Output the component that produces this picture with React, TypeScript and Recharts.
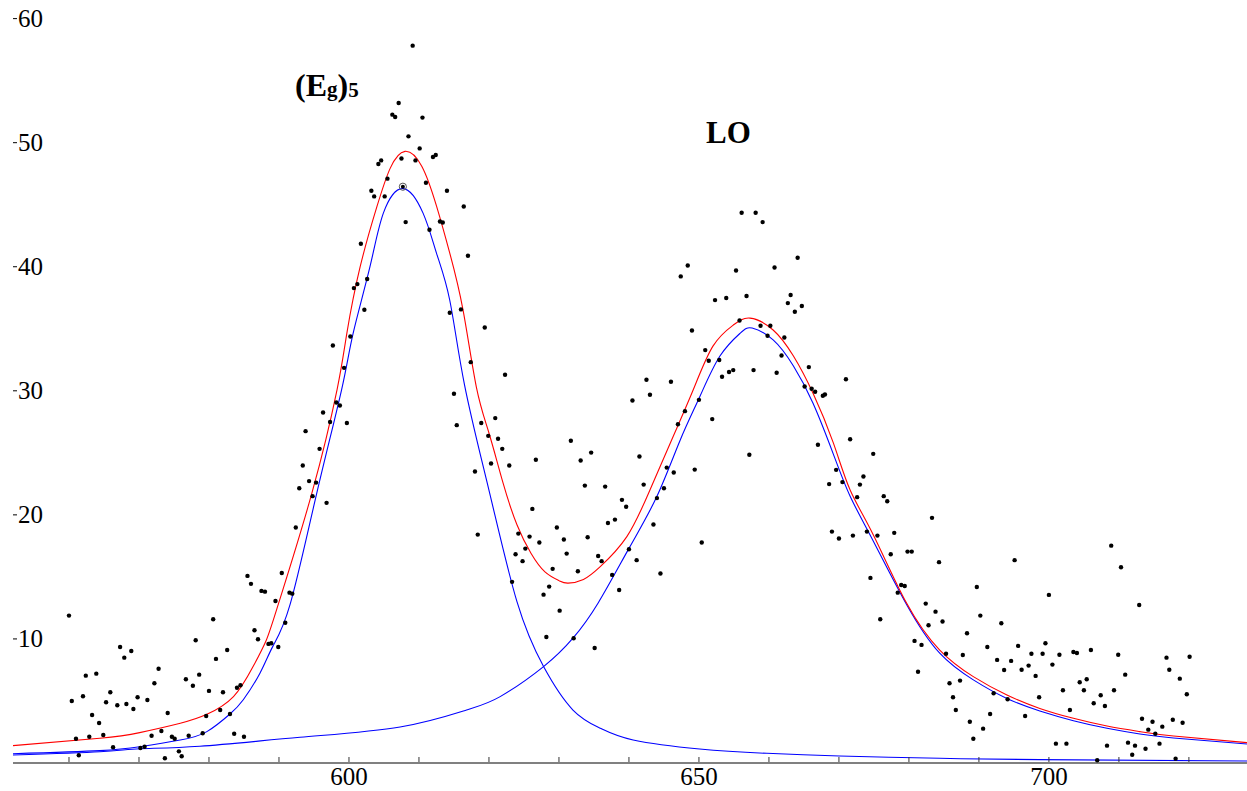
import React from 'react';
import {
  ComposedChart,
  Line,
  Scatter,
  XAxis,
  YAxis,
} from 'recharts';

// measured points [wavenumber, intensity]
const measured: [number, number][] = [
  [560.0, 11.88], [560.4, 5.0], [561.0, 1.96], [561.4, 0.62], [562.0, 5.38], [562.4, 7.04],
  [562.9, 2.12], [563.3, 3.87], [563.9, 7.2], [564.3, 3.23], [564.9, 2.26], [565.3, 4.9],
  [565.9, 5.7], [566.3, 1.27], [566.9, 4.65], [567.3, 9.35], [567.9, 8.49], [568.2, 4.76],
  [568.9, 9.03], [569.2, 4.35], [569.8, 5.3], [570.2, 1.21], [570.8, 1.31], [571.2, 5.08],
  [571.8, 2.2], [572.2, 6.43], [572.8, 7.6], [573.2, 2.58], [573.7, 0.38], [574.1, 4.03],
  [574.7, 2.12], [575.1, 1.96], [575.7, 0.94], [576.1, 0.54], [576.7, 6.75], [577.1, 2.2],
  [577.7, 6.23], [578.1, 9.9], [578.6, 7.12], [579.1, 2.4], [579.6, 3.79], [580.0, 5.81],
  [580.6, 11.59], [581.0, 8.39], [581.6, 4.27], [582.0, 5.7], [582.6, 9.11], [583.0, 3.95],
  [583.6, 2.36], [584.0, 6.07], [584.5, 6.27], [585.0, 2.12], [585.5, 15.08], [586.0, 14.44],
  [586.5, 10.7], [587.0, 9.98], [587.5, 13.87], [588.0, 13.81], [588.5, 9.6], [588.9, 9.65],
  [589.5, 13.06], [589.9, 9.35], [590.4, 15.32], [590.9, 11.31], [591.5, 13.73], [591.9, 13.65],
  [592.4, 18.98], [592.9, 22.15], [593.4, 23.98], [593.8, 26.75], [594.3, 22.72], [594.8, 21.51],
  [595.3, 22.6], [595.8, 25.32], [596.3, 28.25], [596.8, 20.97], [597.3, 27.48], [597.7, 33.65],
  [598.2, 29.06], [598.7, 28.81], [599.3, 31.85], [599.7, 27.4], [600.2, 34.38], [600.7, 38.28],
  [601.2, 38.6], [601.7, 41.85], [602.2, 36.53], [602.6, 39.01], [603.2, 46.13], [603.6, 45.67],
  [604.2, 48.28], [604.6, 48.57], [605.1, 45.67], [605.5, 47.1], [606.2, 52.26], [606.6, 52.07],
  [607.1, 53.2], [607.5, 48.73], [608.1, 43.6], [608.5, 50.51], [609.1, 57.82], [609.5, 48.57],
  [610.1, 49.54], [610.5, 52.02], [611.0, 46.77], [611.5, 42.98], [612.0, 48.85], [612.4, 49.01],
  [613.0, 43.65], [613.4, 43.57], [614.0, 46.13], [614.4, 36.29], [615.0, 29.76], [615.4, 27.23],
  [616.0, 36.56], [616.4, 44.86], [617.0, 40.89], [617.4, 32.31], [618.0, 23.49], [618.4, 18.41],
  [618.9, 27.4], [619.4, 35.1], [619.9, 26.37], [620.3, 24.14], [620.9, 27.8], [621.3, 26.13],
  [621.9, 25.32], [622.3, 31.29], [622.9, 23.98], [623.3, 14.6], [623.8, 16.83], [624.2, 18.49],
  [624.8, 16.27], [625.2, 17.28], [625.8, 18.25], [626.2, 20.48], [626.7, 24.44], [627.2, 17.77],
  [627.8, 13.57], [628.2, 10.16], [628.6, 14.22], [629.1, 15.65], [629.7, 18.98], [630.1, 12.28],
  [630.7, 18.01], [631.1, 16.88], [631.7, 25.97], [632.1, 10.06], [632.7, 15.46], [633.1, 24.38],
  [633.7, 22.36], [634.1, 18.2], [634.6, 25.02], [635.1, 9.27], [635.6, 16.69], [636.1, 16.27],
  [636.6, 22.28], [637.0, 19.35], [637.6, 15.16], [638.0, 19.62], [638.6, 13.95], [639.0, 21.21],
  [639.6, 20.65], [640.0, 17.23], [640.5, 29.22], [641.1, 16.35], [641.5, 24.7], [642.1, 22.44],
  [642.5, 30.89], [643.0, 29.68], [643.5, 19.22], [644.0, 21.35], [644.5, 15.27], [645.0, 22.15],
  [645.4, 23.81], [646.0, 30.73], [646.4, 23.41], [647.0, 27.31], [647.4, 39.22], [648.0, 28.36],
  [648.4, 40.1], [649.0, 34.86], [649.4, 23.65], [650.0, 29.27], [650.4, 17.77], [650.9, 33.28],
  [651.4, 32.42], [651.9, 27.72], [652.3, 37.31], [652.9, 32.48], [653.3, 31.13], [653.9, 37.48],
  [654.3, 31.51], [654.9, 31.67], [655.3, 39.7], [655.8, 35.67], [656.1, 44.35], [656.8, 37.64],
  [657.2, 24.84], [657.8, 31.67], [658.1, 44.35], [658.8, 35.24], [659.1, 43.6], [659.8, 34.44],
  [660.2, 35.24], [660.8, 39.94], [661.1, 31.45], [661.8, 32.85], [662.2, 34.3], [662.7, 37.07],
  [663.1, 37.72], [663.7, 36.37], [664.1, 40.73], [664.7, 36.83], [665.1, 30.35], [665.7, 31.91],
  [666.1, 30.16], [666.6, 29.92], [667.0, 25.65], [667.7, 29.6], [668.0, 29.7], [668.6, 22.48],
  [669.0, 18.65], [669.6, 23.63], [670.0, 18.09], [670.5, 22.64], [671.0, 30.93], [671.6, 26.1],
  [672.0, 18.33], [672.6, 21.43], [673.0, 22.44], [673.5, 23.09], [674.0, 18.65], [674.5, 14.92],
  [674.9, 24.92], [675.5, 18.33], [675.9, 11.59], [676.4, 21.51], [676.9, 21.1], [677.4, 16.83],
  [677.9, 18.55], [678.4, 13.73], [678.9, 14.35], [679.4, 14.27], [679.8, 17.04], [680.4, 17.04],
  [680.8, 9.84], [681.3, 7.36], [681.8, 9.52], [682.4, 12.85], [682.8, 11.1], [683.3, 19.76],
  [683.8, 12.2], [684.3, 16.19], [684.8, 11.4], [685.3, 8.81], [685.8, 6.43], [686.3, 5.3],
  [686.7, 4.27], [687.3, 6.64], [687.7, 8.71], [688.3, 10.46], [688.7, 3.33], [689.2, 1.96],
  [689.7, 14.19], [690.2, 11.88], [690.6, 2.77], [691.2, 9.35], [691.6, 3.95], [692.1, 5.62],
  [692.6, 8.31], [693.2, 11.27], [693.6, 7.5], [694.1, 5.14], [694.6, 8.23], [695.1, 16.35],
  [695.6, 9.44], [696.1, 7.52], [696.6, 3.79], [697.1, 7.85], [697.5, 8.81], [698.1, 7.02],
  [698.6, 5.3], [699.1, 8.81], [699.5, 9.65], [700.0, 13.55], [700.5, 7.93], [701.0, 1.56],
  [701.5, 8.73], [702.0, 5.86], [702.5, 1.56], [703.0, 4.27], [703.5, 8.95], [704.0, 8.87],
  [704.4, 6.51], [705.0, 5.86], [705.4, 6.75], [706.0, 9.11], [706.4, 4.81], [706.9, 0.22],
  [707.4, 5.46], [708.0, 4.6], [708.3, 1.4], [708.9, 17.52], [709.3, 5.86], [709.9, 8.73],
  [710.3, 15.78], [710.9, 7.12], [711.3, 1.64], [711.9, 0.67], [712.3, 1.4], [712.9, 12.74],
  [713.3, 3.57], [713.8, 1.15], [714.2, 2.69], [714.8, 3.33], [715.2, 2.36], [715.8, 1.56],
  [716.2, 2.93], [716.8, 8.49], [717.2, 7.52], [717.7, 3.49], [718.1, 0.35], [718.7, 6.8],
  [719.1, 3.25], [719.7, 5.54], [720.1, 8.57],
];

// highlighted point at the (Eg)5 maximum
const marked: [number, number][] = [[607.7, 46.45]];

// total fit (red)
const fitTotal: [number, number][] = [
  [552.0, 1.4], [564.4, 1.99], [570.1, 2.45], [575.9, 3.2], [579.7, 3.92], [583.5, 5.35],
  [586.3, 7.77], [588.2, 9.92], [590.1, 13.15], [594.7, 21.75], [598.3, 30.1], [599.7, 34.65],
  [601.6, 40.0], [604.0, 44.86], [605.9, 47.95], [608.0, 49.3], [610.4, 48.1], [612.5, 44.9],
  [614.4, 41.1], [616.3, 36.5], [618.2, 30.3], [620.0, 26.6], [622.0, 22.6], [624.0, 19.2],
  [626.0, 16.9], [628.0, 15.4], [630.0, 14.7], [631.3, 14.5], [633.5, 14.8], [635.9, 15.83],
  [639.7, 18.25], [643.0, 22.0], [646.3, 26.3], [649.2, 30.1], [652.0, 33.6], [654.9, 35.3],
  [657.3, 35.86], [660.6, 34.9], [663.5, 32.8], [666.3, 29.8], [669.2, 25.8], [671.6, 22.0],
  [674.9, 18.4], [679.6, 12.95], [684.4, 9.1], [689.2, 6.96], [694.0, 5.48], [698.7, 4.4],
  [703.5, 3.6], [708.3, 2.98], [713.0, 2.53], [717.8, 2.18], [728.3, 1.64],
];

// (Eg)5 component (blue)
const fitEg: [number, number][] = [
  [552.0, 0.75], [564.4, 1.0], [570.1, 1.31], [575.9, 1.85], [579.7, 2.53], [583.0, 3.95],
  [584.9, 5.1], [587.3, 7.26], [589.1, 9.38], [591.6, 12.8], [595.4, 21.75],
  [598.95, 30.1], [600.6, 34.65], [603.0, 40.0], [604.9, 44.3], [607.7, 46.3], [610.6, 44.3],
  [612.5, 41.1], [614.4, 37.3], [616.5, 30.5], [620.1, 21.75], [624.0, 13.0], [627.8, 7.77],
  [632.0, 4.27], [635.9, 2.8], [640.6, 1.85], [650.1, 1.13], [659.7, 0.78], [670.1, 0.56],
  [684.4, 0.38], [698.7, 0.27], [728.3, 0.16],
];

// LO component (blue)
const fitLO: [number, number][] = [
  [552.0, 0.65], [564.4, 0.91], [570.1, 1.15], [578.7, 1.35], [593.0, 2.07], [607.3, 2.9],
  [616.8, 4.27], [621.6, 5.35], [627.8, 7.77], [632.0, 10.06], [635.6, 12.9], [640.1, 17.4],
  [644.0, 21.5], [647.3, 26.0], [650.1, 29.5], [653.0, 32.8], [655.9, 34.65], [657.6, 35.06],
  [660.6, 34.1], [663.5, 32.0], [666.3, 29.0], [669.2, 24.9], [671.6, 21.5], [674.9, 17.9],
  [679.7, 12.74], [684.4, 8.85], [689.2, 6.7], [694.0, 5.2], [698.7, 4.19], [703.5, 3.41],
  [708.3, 2.8], [713.0, 2.34], [717.8, 2.02], [728.3, 1.53],
];

const xTicks = [560, 570, 580, 590, 600, 610, 620, 630, 640, 650, 660, 670, 680, 690, 700, 710, 720];
const xLabels = [600, 650, 700];
const yTicks = [10, 20, 30, 40, 50, 60];

const toXY = (arr: [number, number][]) => arr.map(([x, y]) => ({ x, y }));

const SERIF = '"Liberation Serif", "Times New Roman", serif';
const PLOT_LEFT = 13;

const XTick = ({ x, y, payload }: any) => {
  const axisY = y - 8; // tick origin sits below the axis line
  return (
    <g>
      <line x1={x} x2={x} y1={axisY - 4} y2={axisY + 1} stroke="#333" strokeWidth={1} />
      {xLabels.includes(payload.value) && (
        <text x={x} y={axisY + 24} textAnchor="middle" fontFamily={SERIF} fontSize={25} fill="#000">
          {payload.value}
        </text>
      )}
    </g>
  );
};

const YTick = ({ y, payload }: any) => (
  <g>
    <line x1={PLOT_LEFT} x2={PLOT_LEFT + 4} y1={y} y2={y} stroke="#000" strokeWidth={1} />
    <text x={PLOT_LEFT + 5} y={y + 8} textAnchor="start" fontFamily={SERIF} fontSize={25} fill="#000">
      {payload.value}
    </text>
  </g>
);

const Dot = ({ cx, cy }: any) => <circle cx={cx} cy={cy} r={2.2} fill="#000" />;

const Ring = ({ cx, cy }: any) => (
  <g>
    <circle cx={cx} cy={cy} r={3.6} fill="none" stroke="#555" strokeWidth={1} />
    <circle cx={cx} cy={cy} r={2} fill="#000" />
  </g>
);

export default function App() {
  return (
    <div style={{ position: 'absolute', left: 0, top: 0, width: 1247, height: 791, background: '#fff' }}>
      <ComposedChart width={1247} height={791} margin={{ top: 0, right: 0, bottom: 0, left: 0 }}>
        <XAxis
          type="number"
          dataKey="x"
          domain={[552, 728.3]}
          ticks={xTicks}
          allowDataOverflow
          height={28}
          axisLine={{ stroke: '#808080', strokeWidth: 2 }}
          tickLine={false}
          tick={<XTick />}
          tickMargin={0}
        />
        <YAxis
          type="number"
          dataKey="y"
          domain={[0, 61.5]}
          ticks={yTicks}
          allowDataOverflow
          width={13}
          axisLine={false}
          tickLine={false}
          tick={<YTick />}
        />
        <Line
          data={toXY(fitEg)}
          dataKey="y"
          type="natural"
          stroke="#0000ff"
          strokeWidth={1.1}
          dot={false}
          activeDot={false}
          isAnimationActive={false}
        />
        <Line
          data={toXY(fitLO)}
          dataKey="y"
          type="natural"
          stroke="#0000ff"
          strokeWidth={1.1}
          dot={false}
          activeDot={false}
          isAnimationActive={false}
        />
        <Line
          data={toXY(fitTotal)}
          dataKey="y"
          type="natural"
          stroke="#ff0000"
          strokeWidth={1.1}
          dot={false}
          activeDot={false}
          isAnimationActive={false}
        />
        <Scatter data={toXY(measured)} shape={<Dot />} isAnimationActive={false} />
        <Scatter data={toXY(marked)} shape={<Ring />} isAnimationActive={false} />
      </ComposedChart>
      <svg
        width={1247}
        height={791}
        style={{ position: 'absolute', left: 0, top: 0, pointerEvents: 'none' }}
      >
        <text x={295} y={96} fontFamily={SERIF} fontWeight="bold" fill="#000">
          <tspan fontSize={32}>(E</tspan>
          <tspan fontSize={21}>g</tspan>
          <tspan fontSize={32}>)</tspan>
          <tspan fontSize={21} dy={1}>5</tspan>
        </text>
        <text x={706} y={143} fontFamily={SERIF} fontWeight="bold" fontSize={31} fill="#000">
          LO
        </text>
      </svg>
    </div>
  );
}
